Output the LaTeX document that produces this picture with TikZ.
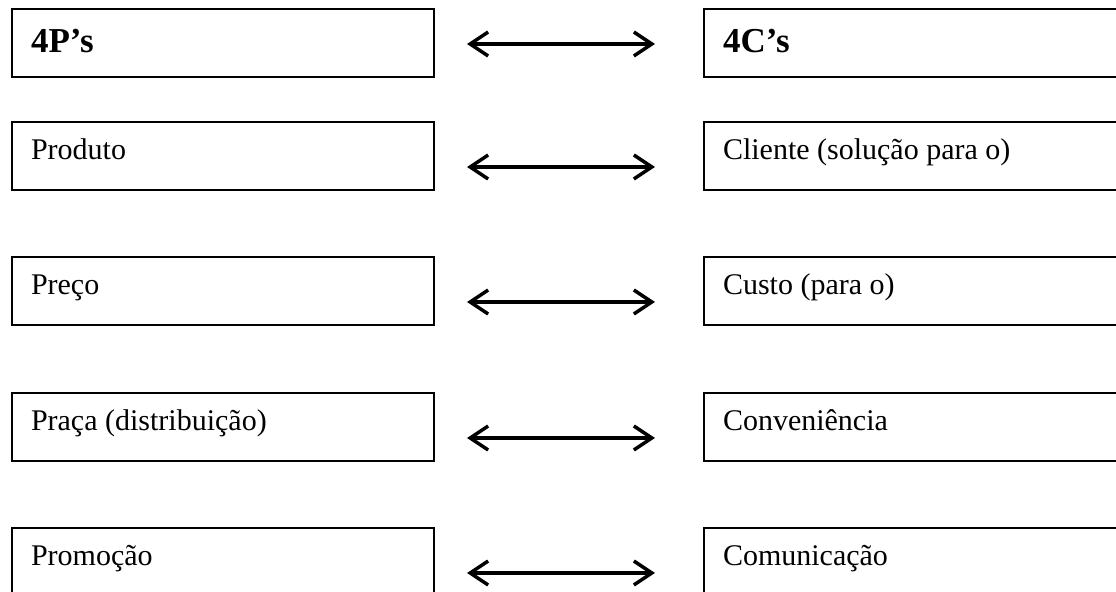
\documentclass[tikz,border=0pt]{standalone}
\usepackage{fontspec}
\setmainfont{Liberation Serif}
\usetikzlibrary{arrows.meta}

\begin{document}
\begin{tikzpicture}[x=0.4pt,y=-0.4pt,
  box/.style={draw,line width=0.8pt,anchor=north west,minimum height=27.2pt,
    text width=153.6pt,inner xsep=7.6pt,inner ysep=0pt,
    font=\fontsize{12}{14}\selectfont,text height=8pt,text depth=4.8pt,
    execute at begin node={\spaceskip=3pt\relax}},
  head/.style={box,font=\fontsize{14}{16}\selectfont\bfseries,text height=10pt,text depth=2pt},
  pair/.style={{Straight Barb[length=7.2pt,width=9.6pt]}-{Straight Barb[length=7.2pt,width=9.6pt]},
    line width=1.4pt,shorten <=12.8pt,shorten >=19.2pt}]
\useasboundingbox (0,0) rectangle (1116,592);
\clip (0,0) rectangle (1116,592);

\node[head] (p0) at (11,8) {4P’s};
\node[box] (p1) at (11,121) {Produto};
\node[box] (p2) at (11,256) {Preço};
\node[box] (p3) at (11,392) {Praça (distribuição)};
\node[box] (p4) at (11,527) {Promoção};

\node[head] (c0) at (703,8) {4C’s};
\node[box] (c1) at (703,121) {Cliente (solução para o)};
\node[box] (c2) at (703,256) {Custo (para o)};
\node[box] (c3) at (703,392) {Conveniência};
\node[box] (c4) at (703,527) {Comunicação};

\draw[pair] ([yshift=-0.4pt]p0.east) -- ([yshift=-0.4pt]c0.west);
\foreach \i in {1,...,4}{
\draw[pair] ([yshift=-4.4pt]p\i.east) -- ([yshift=-4.4pt]c\i.west);
}

\end{tikzpicture}
\end{document}
